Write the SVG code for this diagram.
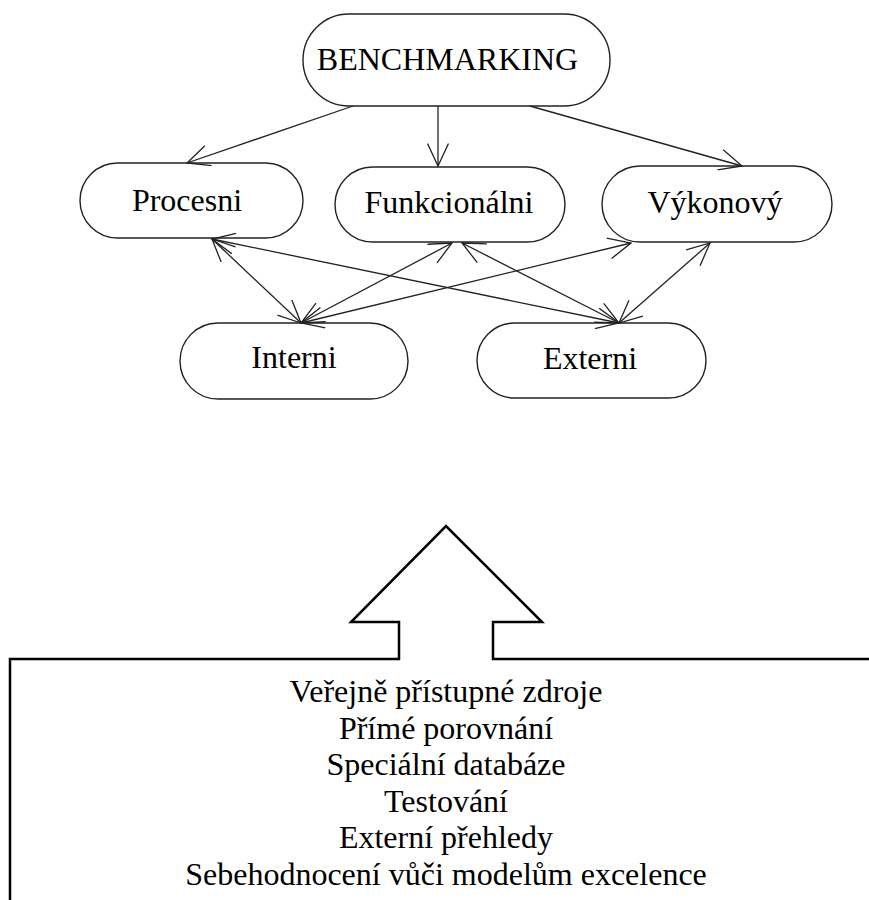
<svg xmlns="http://www.w3.org/2000/svg" width="869" height="900" viewBox="0 0 869 900">
<defs>
<style>
.node rect{fill:#fff;stroke:#222;stroke-width:1.4}
.node text{font-size:32px;fill:#000;text-anchor:middle}
.conn line{stroke:#222;stroke-width:1.3}
.src text{font-size:32px;fill:#000;text-anchor:middle}
</style>
<marker id="ah" viewBox="0 0 24 22" refX="23" refY="11" markerWidth="24" markerHeight="22" markerUnits="userSpaceOnUse" orient="auto-start-reverse">
<path d="M0.5,0.5 L23,11 L0.5,21.5" fill="none" stroke="#222" stroke-width="1.3"/>
</marker>
</defs>
<rect width="869" height="900" fill="#fff"/>
<g font-family="'Liberation Serif', 'DejaVu Serif', serif">
<g id="benchmarking" class="node"><rect x="303" y="14" width="307" height="92" rx="46" ry="46"/><text x="447.5" y="70">BENCHMARKING</text></g>
<g id="procesni" class="node"><rect x="80" y="163" width="223" height="75" rx="37.5" ry="37.5"/><text x="187" y="211">Procesni</text></g>
<g id="funkcionalni" class="node"><rect x="335" y="167" width="230" height="75" rx="37.5" ry="37.5"/><text x="449" y="213">Funkcionálni</text></g>
<g id="vykonovy" class="node"><rect x="602" y="166" width="230" height="76" rx="38" ry="38"/><text x="715" y="213">Výkonový</text></g>
<g id="interni" class="node"><rect x="180" y="323" width="228" height="76" rx="38" ry="38"/><text x="294" y="368">Interni</text></g>
<g id="externi" class="node"><rect x="477" y="323" width="229" height="75" rx="37.5" ry="37.5"/><text x="590" y="369">Externi</text></g>
<g id="connectors" class="conn">
<line x1="353" y1="106" x2="187" y2="163" marker-end="url(#ah)"/>
<line x1="438" y1="106" x2="438" y2="166" marker-end="url(#ah)"/>
<line x1="530" y1="106" x2="742" y2="166" marker-end="url(#ah)"/>
<line x1="212" y1="239" x2="301" y2="323" marker-start="url(#ah)" marker-end="url(#ah)"/>
<line x1="212" y1="239" x2="619" y2="323" marker-start="url(#ah)" marker-end="url(#ah)"/>
<line x1="452" y1="243" x2="301" y2="323" marker-start="url(#ah)" marker-end="url(#ah)"/>
<line x1="462" y1="243" x2="619" y2="323" marker-start="url(#ah)" marker-end="url(#ah)"/>
<line x1="631" y1="243" x2="301" y2="323" marker-start="url(#ah)" marker-end="url(#ah)"/>
<line x1="710" y1="243" x2="619" y2="323" marker-start="url(#ah)" marker-end="url(#ah)"/>
</g>
<g id="sources" class="src">
<path d="M10,900 L10,659 L399,659 L399,622 L351,622 L446,526 L542,622 L493,622 L493,659 L869,659" fill="none" stroke="#000" stroke-width="2.5" stroke-linejoin="miter"/>
<text x="446" y="702">Veřejně přístupné zdroje</text>
<text x="446" y="739">Přímé porovnání</text>
<text x="446" y="775">Speciální databáze</text>
<text x="446" y="812">Testování</text>
<text x="446" y="848">Externí přehledy</text>
<text x="446" y="885">Sebehodnocení vůči modelům excelence</text>
</g>
</g>
</svg>
